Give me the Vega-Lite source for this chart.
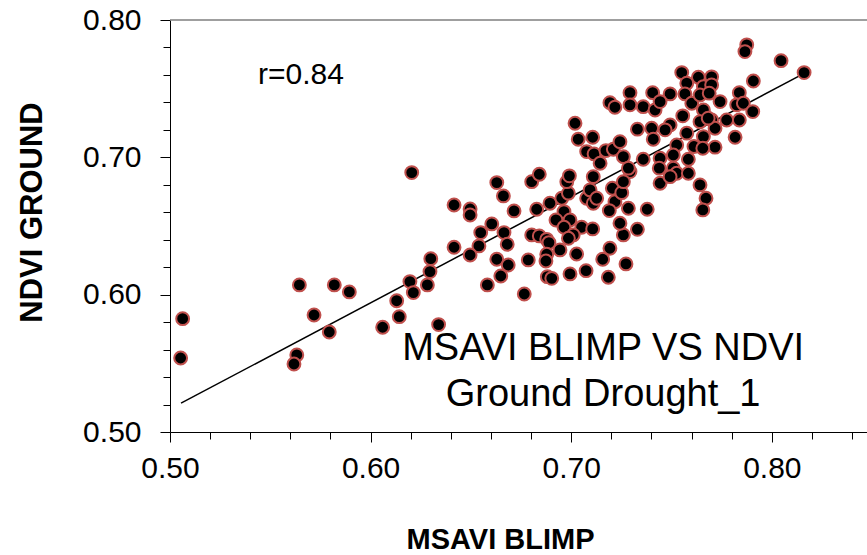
{
  "$schema": "https://vega.github.io/schema/vega-lite/v6.json",
  "width": 697,
  "height": 412,
  "autosize": "none",
  "padding": {"left": 170, "top": 20, "right": 0, "bottom": 123},
  "background": "white",
  "config": {"view": {"stroke": null}, "font": "Liberation Sans"},
  "resolve": {"axis": {"x": "independent", "y": "independent"}},
  "datasets": {
    "pts": [
      {"msavi":0.6205,"ndvi":0.6889},{"msavi":0.6416,"ndvi":0.6653},{"msavi":0.6416,"ndvi":0.6345},{"msavi":0.6300,"ndvi":0.6262},
      {"msavi":0.6296,"ndvi":0.6168},{"msavi":0.6196,"ndvi":0.6095},{"msavi":0.6213,"ndvi":0.6015},{"msavi":0.6283,"ndvi":0.6071},
      {"msavi":0.6130,"ndvi":0.5956},{"msavi":0.6143,"ndvi":0.5840},{"msavi":0.6060,"ndvi":0.5763},{"msavi":0.6339,"ndvi":0.5782},
      {"msavi":0.5645,"ndvi":0.6071},{"msavi":0.5819,"ndvi":0.6071},{"msavi":0.5894,"ndvi":0.6020},{"msavi":0.5718,"ndvi":0.5852},
      {"msavi":0.5794,"ndvi":0.5728},{"msavi":0.5632,"ndvi":0.5561},{"msavi":0.5618,"ndvi":0.5495},{"msavi":0.5063,"ndvi":0.5825},
      {"msavi":0.5053,"ndvi":0.5539},
      {"msavi":0.6496,"ndvi":0.6624},{"msavi":0.6496,"ndvi":0.6580},{"msavi":0.6540,"ndvi":0.6355},{"msavi":0.6496,"ndvi":0.6289},
      {"msavi":0.6549,"ndvi":0.6452},{"msavi":0.6604,"ndvi":0.6515},{"msavi":0.6629,"ndvi":0.6816},{"msavi":0.6662,"ndvi":0.6719},
      {"msavi":0.6665,"ndvi":0.6452},{"msavi":0.6681,"ndvi":0.6367},{"msavi":0.6629,"ndvi":0.6258},{"msavi":0.6686,"ndvi":0.6216},
      {"msavi":0.6649,"ndvi":0.6136},{"msavi":0.6582,"ndvi":0.6071},{"msavi":0.6715,"ndvi":0.6610},{"msavi":0.6766,"ndvi":0.6005},
      {"msavi":0.6786,"ndvi":0.6253},{"msavi":0.6803,"ndvi":0.6435},{"msavi":0.6841,"ndvi":0.6428},{"msavi":0.6878,"ndvi":0.6403},
      {"msavi":0.6889,"ndvi":0.6379},{"msavi":0.6878,"ndvi":0.6294},{"msavi":0.6874,"ndvi":0.6245},{"msavi":0.6803,"ndvi":0.6823},
      {"msavi":0.6841,"ndvi":0.6877},{"msavi":0.6828,"ndvi":0.6622},{"msavi":0.6894,"ndvi":0.6666},{"msavi":0.6953,"ndvi":0.6702},
      {"msavi":0.6986,"ndvi":0.6739},{"msavi":0.6978,"ndvi":0.6823},{"msavi":0.6991,"ndvi":0.6865},{"msavi":0.6964,"ndvi":0.6605},
      {"msavi":0.6924,"ndvi":0.6544},{"msavi":0.6994,"ndvi":0.6544},{"msavi":0.6964,"ndvi":0.6491},{"msavi":0.7052,"ndvi":0.6491},
      {"msavi":0.7010,"ndvi":0.6435},{"msavi":0.6986,"ndvi":0.6411},{"msavi":0.6944,"ndvi":0.6326},{"msavi":0.7027,"ndvi":0.6296},
      {"msavi":0.6881,"ndvi":0.6131},{"msavi":0.6903,"ndvi":0.6119},{"msavi":0.6994,"ndvi":0.6151},{"msavi":0.7074,"ndvi":0.6175},
      {"msavi":0.7107,"ndvi":0.6479},{"msavi":0.7077,"ndvi":0.6702},{"msavi":0.7110,"ndvi":0.6666},{"msavi":0.7094,"ndvi":0.6763},
      {"msavi":0.7110,"ndvi":0.6859},{"msavi":0.7019,"ndvi":0.7248},{"msavi":0.7035,"ndvi":0.7132},{"msavi":0.7107,"ndvi":0.7146},
      {"msavi":0.7077,"ndvi":0.7042},{"msavi":0.7114,"ndvi":0.7025},{"msavi":0.7144,"ndvi":0.6957},{"msavi":0.7173,"ndvi":0.7049},
      {"msavi":0.7210,"ndvi":0.7059},{"msavi":0.7243,"ndvi":0.7114},{"msavi":0.7260,"ndvi":0.7005},{"msavi":0.7193,"ndvi":0.7398},
      {"msavi":0.7218,"ndvi":0.7365},{"msavi":0.7293,"ndvi":0.7471},{"msavi":0.7293,"ndvi":0.7382},{"msavi":0.7359,"ndvi":0.7369},
      {"msavi":0.7330,"ndvi":0.7205},{"msavi":0.7359,"ndvi":0.6986},{"msavi":0.7293,"ndvi":0.6896},{"msavi":0.7285,"ndvi":0.6629},
      {"msavi":0.7330,"ndvi":0.6476},{"msavi":0.7260,"ndvi":0.6435},{"msavi":0.7243,"ndvi":0.6520},{"msavi":0.7218,"ndvi":0.6677},
      {"msavi":0.7205,"ndvi":0.6775},{"msavi":0.7190,"ndvi":0.6612},{"msavi":0.7193,"ndvi":0.6338},{"msavi":0.7157,"ndvi":0.6258},
      {"msavi":0.7273,"ndvi":0.6224},{"msavi":0.7185,"ndvi":0.6127},{"msavi":0.7127,"ndvi":0.6702},{"msavi":0.7252,"ndvi":0.6743},
      {"msavi":0.7260,"ndvi":0.6823},{"msavi":0.7379,"ndvi":0.6622},{"msavi":0.7285,"ndvi":0.6921},
      {"msavi":0.7551,"ndvi":0.7617},{"msavi":0.7634,"ndvi":0.7583},{"msavi":0.7700,"ndvi":0.7586},{"msavi":0.7576,"ndvi":0.7540},
      {"msavi":0.7659,"ndvi":0.7515},{"msavi":0.7700,"ndvi":0.7527},{"msavi":0.7406,"ndvi":0.7471},{"msavi":0.7493,"ndvi":0.7462},
      {"msavi":0.7418,"ndvi":0.7345},{"msavi":0.7443,"ndvi":0.7406},{"msavi":0.7567,"ndvi":0.7462},{"msavi":0.7601,"ndvi":0.7394},
      {"msavi":0.7642,"ndvi":0.7454},{"msavi":0.7688,"ndvi":0.7467},{"msavi":0.7659,"ndvi":0.7345},{"msavi":0.7556,"ndvi":0.7302},
      {"msavi":0.7642,"ndvi":0.7260},{"msavi":0.7700,"ndvi":0.7272},{"msavi":0.7401,"ndvi":0.7212},{"msavi":0.7493,"ndvi":0.7236},
      {"msavi":0.7468,"ndvi":0.7200},{"msavi":0.7576,"ndvi":0.7176},{"msavi":0.7659,"ndvi":0.7151},{"msavi":0.7717,"ndvi":0.7212},
      {"msavi":0.7409,"ndvi":0.7132},{"msavi":0.7526,"ndvi":0.7090},{"msavi":0.7612,"ndvi":0.7079},{"msavi":0.7717,"ndvi":0.7074},
      {"msavi":0.7443,"ndvi":0.6993},{"msavi":0.7509,"ndvi":0.7017},{"msavi":0.7584,"ndvi":0.6986},{"msavi":0.7439,"ndvi":0.6921},
      {"msavi":0.7509,"ndvi":0.6921},{"msavi":0.7526,"ndvi":0.6884},{"msavi":0.7584,"ndvi":0.6884},{"msavi":0.7443,"ndvi":0.6811},
      {"msavi":0.7493,"ndvi":0.6859},{"msavi":0.7642,"ndvi":0.6799},{"msavi":0.7672,"ndvi":0.6702},{"msavi":0.7656,"ndvi":0.6617},
      {"msavi":0.7875,"ndvi":0.7819},{"msavi":0.7866,"ndvi":0.7770},{"msavi":0.8046,"ndvi":0.7704},{"msavi":0.8161,"ndvi":0.7617},
      {"msavi":0.7908,"ndvi":0.7556},{"msavi":0.7838,"ndvi":0.7471},{"msavi":0.7742,"ndvi":0.7406},{"msavi":0.7825,"ndvi":0.7382},
      {"msavi":0.7858,"ndvi":0.7394},{"msavi":0.7905,"ndvi":0.7333},{"msavi":0.7775,"ndvi":0.7272},{"msavi":0.7838,"ndvi":0.7272},
      {"msavi":0.7817,"ndvi":0.7146},{"msavi":0.7656,"ndvi":0.7066},{"msavi":0.7683,"ndvi":0.7285}
    ],
    "fit": [{"msavi":0.5055,"ndvi":0.521},{"msavi":0.8154,"ndvi":0.7606}]
  },
  "layer": [
    {
      "data": {"values": [{}]},
      "mark": {"type": "rule", "color": "#7f7f7f", "strokeWidth": 1.5},
      "encoding": {"y": {"datum": 0.8, "type": "quantitative", "scale": {"domain": [0.5, 0.8], "nice": false, "zero": false}, "axis": null}}
    },
    {
      "data": {"name": "fit"},
      "mark": {"type": "line", "color": "black", "strokeWidth": 1.5},
      "encoding": {
        "x": {"field": "msavi", "type": "quantitative", "scale": {"domain": [0.5, 0.84745], "nice": false, "zero": false},
          "axis": {"orient": "bottom", "title": null, "labels": false, "domain": false, "grid": false, "tickSize": 7, "tickColor": "black",
            "values": [0.52,0.54,0.56,0.58,0.62,0.64,0.66,0.68,0.72,0.74,0.76,0.78,0.82,0.84]}},
        "y": {"field": "ndvi", "type": "quantitative", "scale": {"domain": [0.5, 0.8], "nice": false, "zero": false},
          "axis": {"orient": "left", "title": null, "labels": false, "domain": false, "grid": false, "tickSize": 7, "tickColor": "black",
            "values": [0.52,0.54,0.56,0.58,0.62,0.64,0.66,0.68,0.72,0.74,0.76,0.78]}}
      }
    },
    {
      "data": {"name": "pts"},
      "mark": {"type": "point", "shape": "circle", "filled": true, "fill": "black", "stroke": "#c0504d", "strokeWidth": 2, "size": 165, "opacity": 1, "fillOpacity": 1, "strokeOpacity": 1},
      "encoding": {
        "x": {
          "field": "msavi", "type": "quantitative",
          "scale": {"domain": [0.5, 0.84745], "nice": false, "zero": false},
          "axis": {
            "orient": "bottom",
            "title": "MSAVI BLIMP",
            "values": [0.5,0.6,0.7,0.8],
            "format": ".2f",
            "tickSize": 10, "tickColor": "black", "domainColor": "black", "grid": false,
            "labelFont": "Liberation Sans", "labelFontSize": 30, "labelColor": "black", "labelPadding": 11, "labelFlush": false, "labelOverlap": false,
            "titleFont": "Liberation Sans", "titleFontSize": 29, "titleFontWeight": "bold", "titleColor": "black",
            "titleX": 330, "titleY": 116, "titleBaseline": "alphabetic", "titleAlign": "center"
          }
        },
        "y": {
          "field": "ndvi", "type": "quantitative",
          "scale": {"domain": [0.5, 0.8], "nice": false, "zero": false},
          "axis": {
            "orient": "left",
            "title": "NDVI GROUND",
            "values": [0.5,0.6,0.7,0.8],
            "format": ".2f",
            "tickSize": 10, "tickColor": "black", "domainColor": "black", "grid": false,
            "labelFont": "Liberation Sans", "labelFontSize": 30, "labelColor": "black", "labelPadding": 19, "labelFlush": false, "labelOverlap": false,
            "titleFont": "Liberation Sans", "titleFontSize": 31, "titleFontWeight": "bold", "titleColor": "black",
            "titleX": -129, "titleY": 192, "titleBaseline": "alphabetic", "titleAlign": "center", "titleAngle": -90
          }
        }
      }
    },
    {
      "data": {"values": [{}]},
      "mark": {"type": "text", "text": "r=0.84", "font": "Liberation Sans", "fontSize": 30, "align": "center", "baseline": "alphabetic", "color": "black"},
      "encoding": {
        "x": {"datum": 0.5653, "type": "quantitative", "axis": null},
        "y": {"datum": 0.7535, "type": "quantitative", "axis": null}
      }
    },
    {
      "data": {"values": [{}]},
      "mark": {"type": "text", "text": "MSAVI BLIMP VS NDVI", "font": "Liberation Sans", "fontSize": 38, "align": "center", "baseline": "alphabetic", "color": "black"},
      "encoding": {
        "x": {"datum": 0.7159, "type": "quantitative", "axis": null},
        "y": {"datum": 0.5524, "type": "quantitative", "axis": null}
      }
    },
    {
      "data": {"values": [{}]},
      "mark": {"type": "text", "text": "Ground Drought_1", "font": "Liberation Sans", "fontSize": 38, "align": "center", "baseline": "alphabetic", "color": "black"},
      "encoding": {
        "x": {"datum": 0.7159, "type": "quantitative", "axis": null},
        "y": {"datum": 0.5189, "type": "quantitative", "axis": null}
      }
    }
  ]
}
